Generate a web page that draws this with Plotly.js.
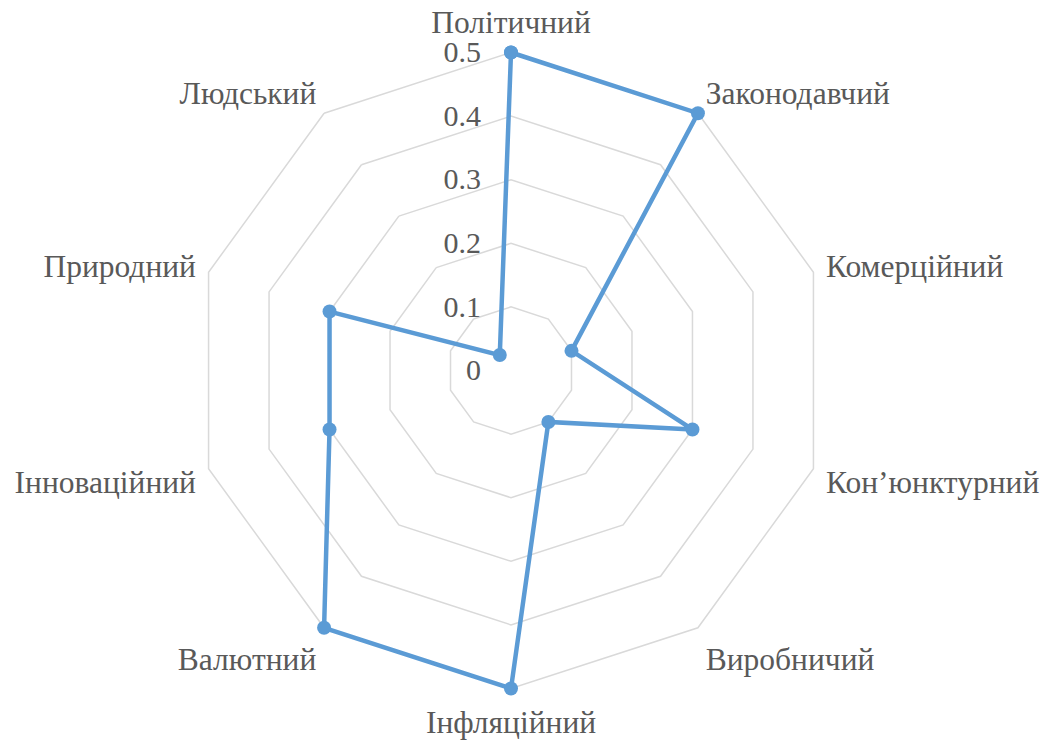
<!DOCTYPE html>
<html>
<head>
<meta charset="utf-8">
<script src="https://cdn.plot.ly/plotly-3.0.1.min.js"></script>
<style>html,body{margin:0;padding:0;background:#fff;}#chart{width:1059px;height:740px;}</style>
</head>
<body>
<div id="chart"></div>
<script>
const categories = ["Політичний", "Законодавчий", "Комерційний", "Кон’юнктурний", "Виробничий", "Інфляційний", "Валютний", "Інноваційний", "Природний", "Людський"];
const values = [0.5, 0.5, 0.1, 0.3, 0.1, 0.5, 0.5, 0.3, 0.3, 0.03];
const radialTicks = [0, 0.1, 0.2, 0.3, 0.4, 0.5];

const textColor = "#595959";
const gridColor = "#d9d9d9";
const lineColor = "#5B9BD5";
const catFont = {family: "Liberation Serif", size: 31.5, color: textColor};
const radFont = {family: "Liberation Serif", size: 30, color: textColor};

// small headroom beyond the 0.5 ring so the thick line along the outer ring is not clipped
const rMax = 0.507;
const R = 318 * rMax / 0.5;
const cx = 511, cyFromBottom = 369.5;

const trace = {
  type: "scatterpolar",
  r: values.concat([values[0]]),
  theta: categories.concat([categories[0]]),
  mode: "lines+markers",
  line: {color: lineColor, width: 4.5},
  marker: {color: lineColor, size: 14},
  hoverinfo: "skip",
  cliponaxis: false
};

const layout = {
  width: 1059,
  height: 740,
  margin: {l: 0, r: 0, t: 0, b: 0},
  paper_bgcolor: "#ffffff",
  showlegend: false,
  font: catFont,
  polar: {
    domain: {x: [(cx - R) / 1059, (cx + R) / 1059], y: [(cyFromBottom - R) / 740, (cyFromBottom + R) / 740]},
    bgcolor: "rgba(0,0,0,0)",
    gridshape: "linear",
    radialaxis: {
      range: [0, rMax],
      tickvals: radialTicks,
      ticktext: radialTicks.map(v => String(v)),
      angle: 90,
      side: "counterclockwise",
      tickangle: 90,
      showline: false,
      layer: "below traces",
      ticks: "outside",
      ticklen: 19,
      tickcolor: "rgba(0,0,0,0)",
      gridcolor: gridColor,
      gridwidth: 1.5,
      tickfont: radFont
    },
    angularaxis: {
      direction: "clockwise",
      rotation: 90,
      showgrid: false,
      showline: false,
      layer: "below traces",
      ticks: "outside",
      ticklen: 2,
      tickcolor: "rgba(0,0,0,0)",
      tickfont: catFont
    }
  }
};

Plotly.newPlot("chart", [trace], layout, {displayModeBar: false, staticPlot: true});
</script>
</body>
</html>
